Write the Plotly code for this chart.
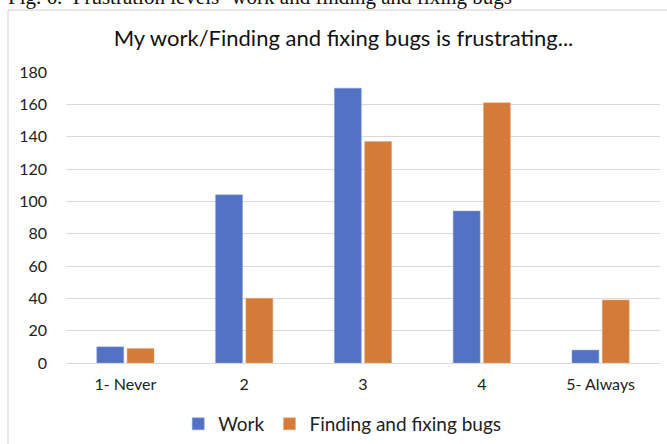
import plotly.graph_objects as go

categories = ["1- Never", "2", "3", "4", "5- Always"]
work = [10, 104, 170, 94, 8]
bugs = [9, 40, 137, 161, 39]
y_ticks = [0, 20, 40, 60, 80, 100, 120, 140, 160, 180]

FONT = "Lato, Calibri, Arial, sans-serif"

fig = go.Figure()
fig.add_trace(go.Bar(name="Work", x=categories, y=work, marker_color="#5472c4",
                     marker_line=dict(color="#8da0d8", width=0.5)))
fig.add_trace(go.Bar(name="Finding and fixing bugs", x=categories, y=bugs, marker_color="#d57b39",
                     marker_line=dict(color="#e8a878", width=0.5)))

fig.update_layout(
    width=667, height=444,
    margin=dict(l=66, r=7, t=72, b=81, autoexpand=False),
    paper_bgcolor="white", plot_bgcolor="white",
    barmode="group", bargap=0.49, bargroupgap=0.11,
    title=dict(text="My work/Finding and fixing bugs is frustrating...",
               x=0.515, xanchor="center", y=1 - 38/444, yanchor="middle",
               font=dict(family=FONT, size=22, color="#111")),
    font=dict(family=FONT, size=16, color="#222"),
    legend=dict(orientation="h", x=0.465, xanchor="center", y=-61/291, yanchor="middle",
                font=dict(family=FONT, size=19, color="#222"), itemwidth=30,
                traceorder="normal"),
    xaxis=dict(showgrid=False, ticks="", showline=False, automargin=False,
               ticklabelstandoff=10,
               tickfont=dict(family=FONT, size=16, color="#222")),
    yaxis=dict(range=[0, 180], tickvals=y_ticks, showgrid=True, gridcolor="#d9d9d9",
               gridwidth=1, zeroline=True, zerolinecolor="#d9d9d9", zerolinewidth=1,
               showline=False, ticks="", ticklabelstandoff=18, automargin=False,
               tickfont=dict(family=FONT, size=16, color="#222")),
    shapes=[dict(type="rect", xref="paper", yref="paper",
                 x0=-58/594, x1=1.2, y0=-0.5, y1=1 + 62/291,
                 line=dict(color="#d0d0d0", width=1), fillcolor="rgba(0,0,0,0)", layer="below")],
    annotations=[dict(text="Fig. 6.  Frustration levels- work and finding and fixing bugs",
                      xref="paper", yref="paper", x=-60/594, xanchor="left",
                      y=1 + 61/291, yanchor="bottom", showarrow=False,
                      font=dict(family="Liberation Serif, Times New Roman, serif", size=21, color="#111"))],
)

fig.write_html("out.html", config={"displayModeBar": False},
               post_script="document.body.style.margin='0';document.body.style.padding='0';")
